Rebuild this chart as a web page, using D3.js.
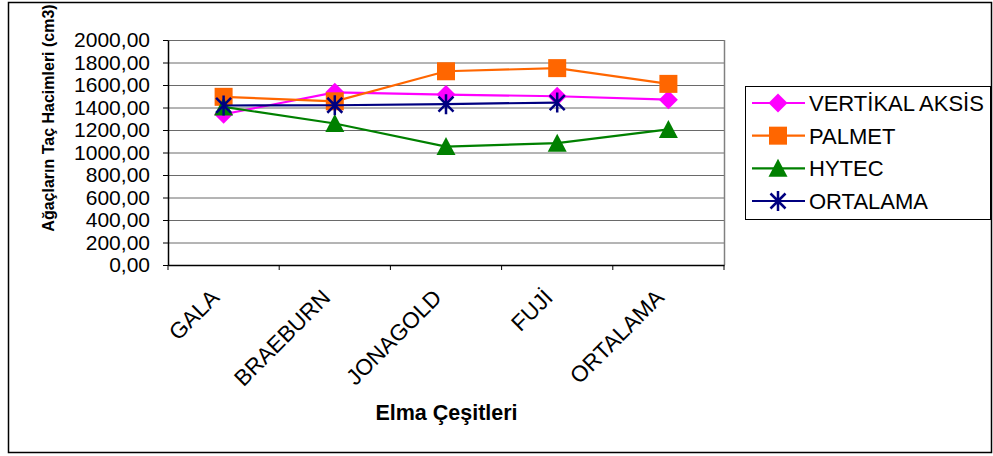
<!DOCTYPE html>
<html>
<head>
<meta charset="utf-8">
<script src="https://cdn.jsdelivr.net/npm/d3@7"></script>
<style>
  body { margin: 0; background: #fff; }
  text { font-family: "Liberation Sans", Arial, sans-serif; }
</style>
</head>
<body>
<div id="chart"></div>
<script>
const categories = ["GALA", "BRAEBURN", "JONAGOLD", "FUJİ", "ORTALAMA"];
const yTicks = [0, 200, 400, 600, 800, 1000, 1200, 1400, 1600, 1800, 2000];

const vertikalValues = [1340, 1535, 1515, 1500, 1470];
const palmetValues = [1495, 1455, 1722, 1750, 1610];
const hytecValues = [1405, 1258, 1053, 1083, 1205];
const ortalamaValues = [1418, 1420, 1430, 1444, null];

const seriesNames = ["VERTİKAL AKSİS", "PALMET", "HYTEC", "ORTALAMA"];

const width = 993;
const height = 456;
const plot = { left: 168, right: 724, top: 40, bottom: 265 };

const series = [
    { name: seriesNames[0], values: vertikalValues, color: "#ff00ff", marker: "diamond" },
    { name: seriesNames[1], values: palmetValues, color: "#ff6600", marker: "square" },
    { name: seriesNames[2], values: hytecValues, color: "#008000", marker: "triangle" },
    { name: seriesNames[3], values: ortalamaValues, color: "#000080", marker: "star" },
];

const svg = d3.select("#chart").append("svg")
    .attr("width", width)
    .attr("height", height);

// outer chart border
svg.append("rect")
    .attr("x", 8.5).attr("y", 2.5)
    .attr("width", 983).attr("height", 450)
    .attr("fill", "#fff")
    .attr("stroke", "#000")
    .attr("stroke-width", 1.5);

const x = d3.scaleBand()
    .domain(categories)
    .range([plot.left, plot.right]);

const y = d3.scaleLinear()
    .domain([0, 2000])
    .range([plot.bottom, plot.top]);

// gridlines
svg.append("g")
    .attr("transform", `translate(${plot.left},0)`)
    .call(d3.axisLeft(y).tickValues(yTicks).tickFormat("").tickSize(-(plot.right - plot.left)))
    .call(g => g.select(".domain").remove())
    .call(g => g.selectAll("line").attr("stroke", "#6a6a6a").attr("stroke-width", 1));

// right border of plot area
svg.append("line")
    .attr("x1", plot.right + 0.5).attr("x2", plot.right + 0.5)
    .attr("y1", plot.top).attr("y2", plot.bottom)
    .attr("stroke", "#808080").attr("stroke-width", 1.5);

// y axis
const yAxis = svg.append("g")
    .attr("transform", `translate(${plot.left},0)`)
    .call(d3.axisLeft(y).tickValues(yTicks).tickSize(5).tickSizeOuter(0)
        .tickFormat(d => d3.format(".2f")(d).replace(".", ",")));
yAxis.select(".domain").attr("stroke", "#000").attr("stroke-width", 1.5);
yAxis.selectAll("line").attr("stroke", "#000");
yAxis.selectAll("text")
    .attr("x", -18)
    .attr("font-size", 21)
    .attr("fill", "#000");

// x axis
const xAxis = svg.append("g")
    .attr("transform", `translate(0,${plot.bottom})`)
    .call(d3.axisBottom(x).tickSize(0).tickFormat(""));
xAxis.select(".domain").attr("stroke", "#000").attr("stroke-width", 1.5);

const boundaries = categories.map(c => x(c)).concat([plot.right]);
svg.append("g").selectAll("line")
    .data(boundaries)
    .enter().append("line")
    .attr("x1", d => d).attr("x2", d => d)
    .attr("y1", plot.bottom).attr("y2", plot.bottom + 5)
    .attr("stroke", "#000");

svg.append("g").selectAll("text")
    .data(categories)
    .enter().append("text")
    .attr("transform", d => `translate(${x(d) + x.bandwidth() / 2 - 3},${plot.bottom + 34}) rotate(-45)`)
    .attr("text-anchor", "end")
    .attr("font-size", 22.5)
    .text(d => d);

// axis titles
svg.append("text")
    .attr("x", 446.5).attr("y", 420)
    .attr("text-anchor", "middle")
    .attr("font-size", 21.5)
    .attr("font-weight", "bold")
    .text("Elma Çeşitleri");

svg.append("text")
    .attr("transform", "translate(54,118) rotate(-90)")
    .attr("text-anchor", "middle")
    .attr("font-size", 16)
    .attr("font-weight", "bold")
    .text("Ağaçların Taç Hacimleri (cm3)");

function drawMarker(g, type, color) {
    if (type === "diamond") {
        g.append("path").attr("d", "M0,-9.5L9.5,0L0,9.5L-9.5,0Z").attr("fill", color);
    } else if (type === "square") {
        g.append("rect").attr("x", -9).attr("y", -9).attr("width", 18).attr("height", 18).attr("fill", color);
    } else if (type === "triangle") {
        g.append("path").attr("d", "M0,-9.5L9.5,8.5L-9.5,8.5Z").attr("fill", color);
    } else if (type === "star") {
        g.append("path")
            .attr("d", "M-7.5,-7.5L7.5,7.5M-7.5,7.5L7.5,-7.5M0,-10L0,10")
            .attr("stroke", color).attr("stroke-width", 2.5).attr("fill", "none");
    }
}

const line = d3.line()
    .defined(d => d.value !== null)
    .x(d => x(d.cat) + x.bandwidth() / 2)
    .y(d => y(d.value));

series.forEach(s => {
    const pts = s.values.map((v, i) => ({ cat: categories[i], value: v }));
    const g = svg.append("g");
    g.append("path")
        .datum(pts)
        .attr("d", line)
        .attr("fill", "none")
        .attr("stroke", s.color)
        .attr("stroke-width", 2.2);
    pts.filter(d => d.value !== null).forEach(d => {
        const m = g.append("g")
            .attr("transform", `translate(${x(d.cat) + x.bandwidth() / 2},${y(d.value)})`);
        drawMarker(m, s.marker, s.color);
    });
});

// legend
const legend = svg.append("g");
legend.append("rect")
    .attr("x", 745.5).attr("y", 86.5)
    .attr("width", 245).attr("height", 133)
    .attr("fill", "#fff")
    .attr("stroke", "#000").attr("stroke-width", 1);

const legendY = d3.scalePoint()
    .domain(seriesNames)
    .range([103, 201]);

series.forEach(s => {
    const ly = legendY(s.name);
    legend.append("line")
        .attr("x1", 752).attr("x2", 805)
        .attr("y1", ly).attr("y2", ly)
        .attr("stroke", s.color).attr("stroke-width", 2.2);
    const m = legend.append("g").attr("transform", `translate(778,${ly})`);
    drawMarker(m, s.marker, s.color);
    legend.append("text")
        .attr("x", 809).attr("y", ly + 8)
        .attr("font-size", 22)
        .text(s.name);
});
</script>
</body>
</html>
